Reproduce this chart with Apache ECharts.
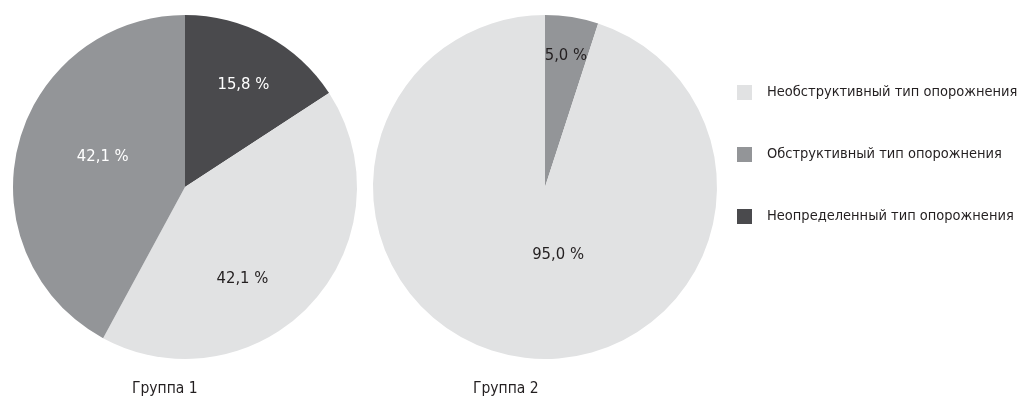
<!DOCTYPE html>
<html><head><meta charset="utf-8">
<script src="https://cdn.jsdelivr.net/npm/echarts@6/dist/echarts.min.js"></script>
<style>html,body{margin:0;padding:0;background:#fff}#c{width:1024px;height:405px}</style>
</head><body><div id="c"></div>
<script>
const categories = ['Необструктивный тип опорожнения', 'Обструктивный тип опорожнения', 'Неопределенный тип опорожнения'];
const group1 = [42.1, 42.1, 15.8];
const group2 = [95.0, 5.0, 0];
const groupTitles = ['Группа 1', 'Группа 2'];
// clockwise drawing order from 12 o'clock (indices into categories)
const order1 = [2, 0, 1];
const order2 = [1, 0];

const colors = ['#e1e2e3', '#939598', '#4a4a4d'];
const FONT = '"DejaVu Sans Condensed", "Liberation Sans", sans-serif';
const TXT = '#231f20';

function fmt(v){ return v.toFixed(1).replace('.', ',') + ' %'; }

function buildData(vals, order, labelColors){
  return order.filter(i => vals[i] > 0).map(i => ({
    name: categories[i], value: vals[i],
    itemStyle: {color: colors[i]},
    label: {color: labelColors[i]}
  }));
}
const shift1 = [[16, -24], [-8, 31], [4, -8]];
const shift2 = [[7, -43], [27, -20]];

const chart = echarts.init(document.getElementById('c'), null, {renderer: 'canvas'});
chart.setOption({
  animation: false,
  color: colors,
  title: [
    {text: groupTitles[0], left: 127, top: 376, textStyle: {fontFamily: FONT, fontSize: 15.5, fontWeight: 'normal', color: TXT}},
    {text: groupTitles[1], left: 468, top: 376, textStyle: {fontFamily: FONT, fontSize: 15.5, fontWeight: 'normal', color: TXT}}
  ],
  legend: {
    data: categories,
    orient: 'vertical', left: 732, top: 80,
    itemWidth: 15, itemHeight: 15, itemGap: 47,
    icon: 'rect',
    textStyle: {fontFamily: FONT, fontSize: 14.5, color: TXT, padding: [0, 0, 0, 10]}
  },
  series: [
    {
      type: 'pie', center: [185, 187], radius: 172, startAngle: 90, clockwise: true,
      data: buildData(group1, order1, ['#231f20', '#ffffff', '#ffffff']),
      label: {position: 'inside', fontFamily: FONT, fontSize: 16.5, formatter: p => fmt(p.value)},
      labelLine: {show: false}, emphasis: {disabled: true}, silent: true,
      labelLayout: p => ({dx: shift1[p.dataIndex][0], dy: shift1[p.dataIndex][1]})
    },
    {
      type: 'pie', center: [545, 187], radius: 172, startAngle: 90, clockwise: true,
      data: buildData(group2, order2, ['#231f20', '#231f20', '#ffffff']),
      label: {position: 'inside', fontFamily: FONT, fontSize: 16.5, formatter: p => fmt(p.value)},
      labelLine: {show: false}, emphasis: {disabled: true}, silent: true,
      labelLayout: p => ({dx: shift2[p.dataIndex][0], dy: shift2[p.dataIndex][1]})
    }
  ]
});
</script></body></html>
